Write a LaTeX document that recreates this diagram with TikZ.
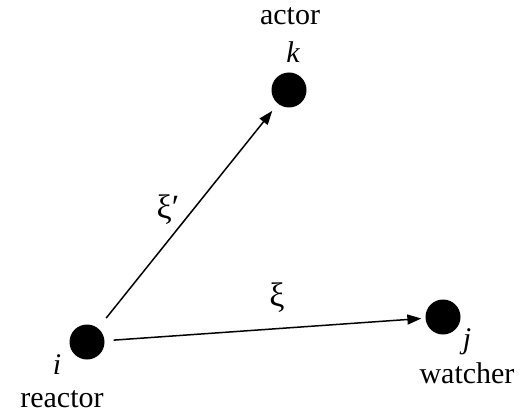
\documentclass[tikz,border=0pt]{standalone}
\usepackage{fontspec}
\setmainfont{Liberation Serif}
\usetikzlibrary{arrows.meta}
\begin{document}
\begin{tikzpicture}[x=1pt,y=-1pt,
  agent/.style={circle,fill=black,minimum size=35pt,inner sep=0pt},
  lab/.style={font=\fontsize{30}{32}\selectfont,inner sep=0pt},
  greek/.style={font=\fontsize{34}{36}\selectfont,inner sep=0pt},
  conn/.style={line width=1.5pt,-{Triangle[length=14pt,width=10pt]}}]
\useasboundingbox (0,0) rectangle (527,414);
\node[agent] (k) at (289,90) {};
\node[agent] (i) at (87,342) {};
\node[agent] (j) at (443,317) {};
\node[lab] (actor) at (290,16) {actor};
\node[lab] (kl) at (293,52) {\itshape k};
\node[lab] (il) at (57,365) {\itshape i};
\node[lab] (reactor) at (62,399) {reactor};
\node[lab] (jl) at (467,342) {\itshape j};
\node[lab] (watcher) at (467,373) {watcher};
\draw[conn,shorten <=13pt,shorten >=9pt] (i) -- (k);
\draw[conn,shorten <=9pt,shorten >=4pt] (i) -- (j);
\node[greek] (xip) at (168,210) {ξ′};
\node[greek] (xi) at (277,298) {ξ};
\end{tikzpicture}
\end{document}
